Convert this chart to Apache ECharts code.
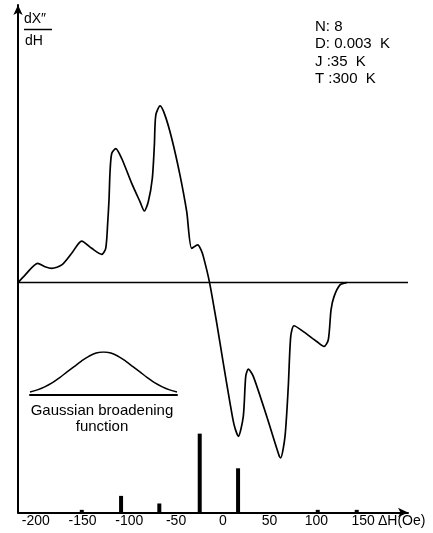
<!DOCTYPE html>
<html>
<head>
<meta charset="utf-8">
<title>dX''/dH spectrum</title>
<script src="https://cdn.jsdelivr.net/npm/echarts@6/dist/echarts.min.js"></script>
<style>
  html, body { margin: 0; padding: 0; background: #fff; }
  #chart { width: 433px; height: 533px; }
</style>
</head>
<body>
<div id="chart"></div>
<script>
// derivative spectrum (field in Oe, arbitrary units)
var specH = [-219, -211.5, -197.9, -190.1, -182.9, -172.2, -161.6, -150.9, -140.2, -129.5,
  -125.2, -123.1, -121.7, -120.6, -118.8, -114.5, -108.1, -97.4, -88.5, -83.9,
  -79.7, -75.4, -73.2, -71.7, -67.1, -61.8, -54.6, -45.8, -38.6, -33.3,
  -26.8, -23.3, -20.8, -14.4, -6.5, 0.5, 7.7, 12.0, 16.6, 21.9,
  24.5, 27.3, 32.6, 46.9, 60.4, 61.9, 66.5, 70.0, 72.6, 76.1,
  86.1, 100.4, 108.2, 112.8, 115.7, 118.9, 125.3, 132.5];
var specV = [0, 4.3, 10.9, 9.0, 8.1, 10.0, 16.6, 23.5, 19.4, 16.0,
  19.4, 33.7, 46.7, 62.6, 73.0, 75.8, 70.2, 56.1, 45.7, 40.5,
  45.7, 58.9, 77.7, 94.6, 99.9, 94.6, 81.5, 60.8, 40.1, 19.4,
  21.3, 18.5, 14.7, 0.6, -22.9, -45.5, -68.1, -80.3, -86.9, -75.6,
  -53.0, -48.9, -53.0, -75.6, -98.2, -99.1, -86.9, -58.7, -30.5, -24.4,
  -27.7, -33.3, -36.1, -32.3, -15.4, -7.9, -1.3, 0];

// stick spectrum (line positions and intensities)
var stickH = [-150.8, -108.8, -67.9, -24.7, 16.3, 101.5, 143.2];
var stickV = [1.5, 9.4, 5.1, 44.6, 25, 1.5, 1.5];

// inset: gaussian broadening function
var gaussX = [-1, -0.9, -0.8, -0.7, -0.6, -0.5, -0.4, -0.3, -0.2, -0.1, 0,
  0.1, 0.2, 0.3, 0.4, 0.5, 0.6, 0.7, 0.8, 0.9, 1];
var gaussV = [0.07, 0.12, 0.19, 0.28, 0.40, 0.53, 0.66, 0.79, 0.90, 0.975, 1,
  0.975, 0.90, 0.79, 0.66, 0.53, 0.40, 0.28, 0.19, 0.12, 0.07];

var tickValues = [-200, -150, -100, -50, 0, 50, 100, 150];
var xMin = -219, xMax = 198;
var params = ['N: 8', 'D: 0.003  K', 'J :35  K', 'T :300  K'];

var font = '"Liberation Sans", Arial, Helvetica, sans-serif';

var chart = echarts.init(document.getElementById('chart'));

chart.setOption({
  animation: false,
  backgroundColor: '#fff',
  grid: [
    { left: 18, right: 25, top: 5, bottom: 20.5 },
    { left: 30, top: 352, width: 147, height: 43 }
  ],
  xAxis: [{
    type: 'value',
    gridIndex: 0,
    min: xMin,
    max: xMax,
    axisLine: {
      show: true,
      onZero: false,
      symbol: ['none', 'arrow'],
      symbolSize: [7, 10],
      lineStyle: { color: '#000', width: 2 }
    },
    axisTick: { show: false },
    splitLine: { show: false },
    axisLabel: {
      customValues: tickValues,
      color: '#000',
      fontSize: 14,
      fontFamily: font,
      margin: 2
    }
  }, {
    type: 'value',
    gridIndex: 1,
    min: -1,
    max: 1,
    axisLine: { show: true, onZero: false, lineStyle: { color: '#000', width: 2 } },
    axisTick: { show: false },
    axisLabel: { show: false },
    splitLine: { show: false }
  }],
  yAxis: [{
    type: 'value',
    gridIndex: 0,
    min: -130,
    max: 157,
    axisLine: {
      show: true,
      onZero: false,
      symbol: ['none', 'arrow'],
      symbolSize: [7, 10],
      lineStyle: { color: '#000', width: 2 }
    },
    axisTick: { show: false },
    axisLabel: { show: false },
    splitLine: { show: false }
  }, {
    type: 'value',
    gridIndex: 0,
    min: 0,
    max: 287,
    show: false
  }, {
    type: 'value',
    gridIndex: 1,
    min: 0,
    max: 1,
    show: false
  }],
  series: [
    {
      name: 'baseline',
      type: 'line',
      xAxisIndex: 0,
      yAxisIndex: 0,
      data: [[xMin, 0], [xMax, 0]],
      symbol: 'none',
      lineStyle: { color: '#000', width: 1.5 }
    },
    {
      name: 'dX/dH',
      type: 'line',
      xAxisIndex: 0,
      yAxisIndex: 0,
      data: specH.map(function (h, i) { return [h, specV[i]]; }),
      symbol: 'none',
      smooth: 0.25,
      lineStyle: { color: '#000', width: 1.7 }
    },
    {
      name: 'sticks',
      type: 'bar',
      xAxisIndex: 0,
      yAxisIndex: 1,
      data: stickH.map(function (h, i) { return [h, stickV[i]]; }),
      barWidth: 4,
      itemStyle: { color: '#000' }
    },
    {
      name: 'gaussian',
      type: 'line',
      xAxisIndex: 1,
      yAxisIndex: 2,
      data: gaussX.map(function (x, i) { return [x, gaussV[i]]; }),
      symbol: 'none',
      smooth: 0.4,
      lineStyle: { color: '#000', width: 1.5 }
    }
  ],
  graphic: [
    { type: 'text', left: 24, top: 12, style: { text: 'dX″', font: '14px ' + font, fill: '#000' } },
    { type: 'line', shape: { x1: 24, y1: 29.5, x2: 52, y2: 29.5 }, style: { stroke: '#000', lineWidth: 1.5 } },
    { type: 'text', left: 25, top: 34, style: { text: 'dH', font: '14px ' + font, fill: '#000' } },
    {
      type: 'text', left: 315, top: 18,
      style: { text: params.join('\n'), font: '15px ' + font, lineHeight: 17.5, fill: '#000' }
    },
    {
      type: 'text', x: 102, y: 403,
      style: {
        text: 'Gaussian broadening\nfunction', font: '15px ' + font,
        lineHeight: 16, align: 'center', fill: '#000'
      }
    },
    { type: 'text', left: 378, top: 514, style: { text: 'ΔH(Oe)', font: '14px ' + font, fill: '#000' } }
  ]
});
</script>
</body>
</html>
